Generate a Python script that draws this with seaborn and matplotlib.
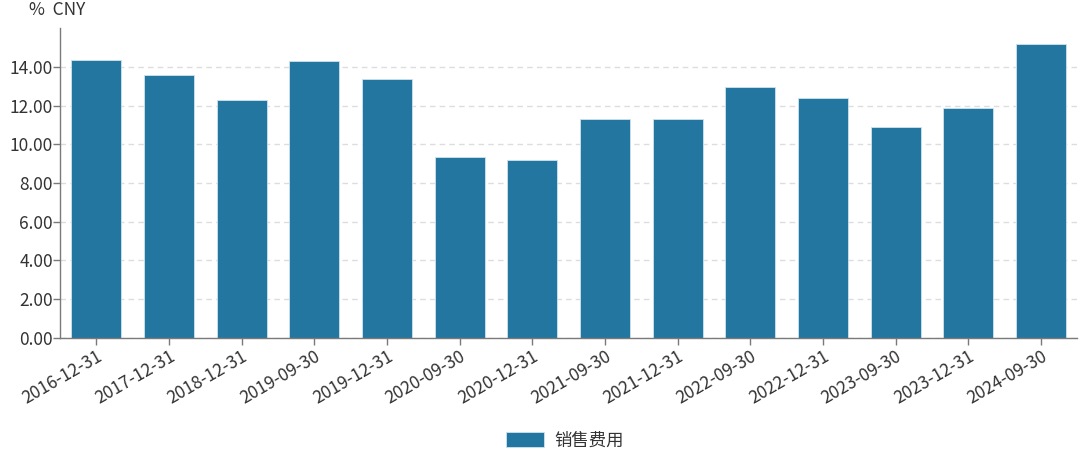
import matplotlib
matplotlib.use('Agg')
import matplotlib.pyplot as plt
import pandas as pd
import seaborn as sns

# data
dates = ['2016-12-31', '2017-12-31', '2018-12-31', '2019-09-30', '2019-12-31',
         '2020-09-30', '2020-12-31', '2021-09-30', '2021-12-31', '2022-09-30',
         '2022-12-31', '2023-09-30', '2023-12-31', '2024-09-30']
sales_expense = [14.33, 13.56, 12.27, 14.28, 13.35, 9.33, 9.18, 11.29, 11.31,
                 12.94, 12.39, 10.89, 11.87, 15.16]
y_ticks = [0, 2, 4, 6, 8, 10, 12, 14]
series_name = '销售费用'
unit_label = '%  CNY'

df = pd.DataFrame({'date': dates, 'value': sales_expense})

sns.set_theme(style='white')
plt.rcParams['font.family'] = ['Noto Sans CJK SC', 'DejaVu Sans']

bar_color = '#22769f'
text_color = '#333333'
axis_color = '#7a7a7a'
fs = 12.5

fig = plt.figure(figsize=(10.8, 4.53), dpi=100)
ax = fig.add_axes([0.0556, 0.254, 0.942, 0.684])

sns.barplot(data=df, x='date', y='value', color=bar_color, width=0.69,
            edgecolor='#cfe3ee', linewidth=0.6, saturation=1, ax=ax,
            label=series_name)

# axis ranges and ticks
ax.set_ylim(0, 16)
ax.set_xlim(-0.5, len(dates) - 0.5)
ax.set_yticks(y_ticks)
ax.set_yticklabels(['{:.2f}'.format(v) for v in y_ticks])
ax.set_xlabel('')
ax.set_ylabel('')

# dashed grid lines
ax.yaxis.grid(True, linestyle=(0, (4, 3)), color='#dddddd', linewidth=1)
ax.set_axisbelow(True)

for side in ['top', 'right']:
    ax.spines[side].set_visible(False)
for side in ['left', 'bottom']:
    ax.spines[side].set_color(axis_color)
    ax.spines[side].set_linewidth(1)

ax.tick_params(axis='y', length=5, width=1, color=axis_color, labelsize=fs,
               labelcolor=text_color, pad=0, left=True)
ax.tick_params(axis='x', length=5, width=1, color=axis_color, labelsize=fs,
               labelcolor=text_color, pad=2, bottom=True)
plt.setp(ax.get_xticklabels(), rotation=30, ha='right', rotation_mode='anchor')

# unit label above the y axis
fig.text(0.027, 0.998, unit_label, fontsize=fs, color=text_color, va='top', ha='left')

# legend at bottom centre
handles, labels = ax.get_legend_handles_labels()
leg = fig.legend(handles, labels, loc='center', bbox_to_anchor=(0.523, 0.028),
                 frameon=False, fontsize=fs, handlelength=2.2, handleheight=1.0,
                 handletextpad=0.6)
for t in leg.get_texts():
    t.set_color(text_color)
if ax.get_legend() is not None:
    ax.get_legend().remove()

plt.savefig('out.png', dpi=100)
